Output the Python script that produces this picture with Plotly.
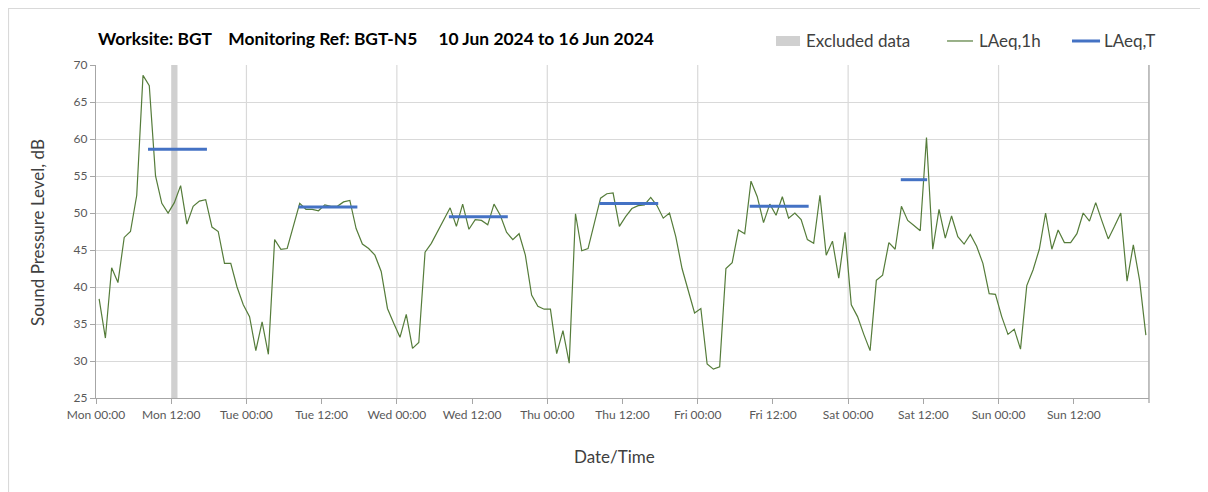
import pandas as pd
import plotly.graph_objects as go

# ---------------- data ----------------
start = "2024-06-10 00:30"
laeq_1h = [
    38.4, 33.1, 42.6, 40.6, 46.7, 47.5, 52.4, 68.6, 67.2, 55.0, 51.3, 50.0,
    51.4, 53.7, 48.5, 50.9, 51.6, 51.8, 48.1, 47.5, 43.2, 43.2, 40.0, 37.6,
    36.0, 31.4, 35.3, 30.9, 46.4, 45.1, 45.2, 48.3, 51.3, 50.5, 50.5, 50.3,
    51.1, 50.9, 50.9, 51.5, 51.7, 47.9, 45.8, 45.2, 44.3, 42.1, 37.1, 35.1,
    33.2, 36.3, 31.7, 32.5, 44.7, 45.9, 47.5, 49.1, 50.7, 48.2, 51.2, 47.8,
    49.1, 49.0, 48.4, 51.2, 49.7, 47.4, 46.4, 47.2, 44.3, 38.9, 37.4, 37.0,
    37.0, 31.0, 34.1, 29.7, 49.9, 44.9, 45.2, 48.6, 52.0, 52.6, 52.7, 48.2,
    49.5, 50.6, 51.0, 51.1, 52.1, 51.0, 49.3, 50.0, 46.8, 42.5, 39.6, 36.5,
    37.1, 29.6, 28.9, 29.2, 42.5, 43.3, 47.7, 47.2, 54.3, 52.2, 48.7, 51.2,
    49.7, 52.2, 49.3, 50.0, 49.1, 46.4, 45.9, 52.4, 44.3, 46.2, 41.2, 47.4,
    37.6, 36.0, 33.6, 31.4, 40.9, 41.6, 46.0, 45.1, 50.9, 49.0, 48.3, 47.6,
    60.2, 45.1, 50.5, 46.6, 49.6, 46.8, 45.8, 47.1, 45.5, 43.2, 39.1, 39.0,
    36.0, 33.6, 34.3, 31.6, 40.2, 42.3, 45.1, 50.0, 45.1, 47.7, 46.0, 46.0,
    47.2, 50.0, 48.9, 51.4, 48.9, 46.5, 48.2, 50.0, 40.8, 45.7, 40.9, 33.5,
]
period_days = ["2024-06-10", "2024-06-11", "2024-06-12", "2024-06-13", "2024-06-14", "2024-06-15"]
period_start_h = [8.3, 8.3, 8.3, 8.3, 8.3, 8.4]
period_end_h = [17.7, 17.7, 17.7, 17.7, 17.7, 12.6]
laeq_t = [58.6, 50.8, 49.5, 51.3, 50.9, 54.5]
excluded_start = "2024-06-10 12:00"
excluded_end = "2024-06-10 13:00"
tick_vals = pd.date_range("2024-06-10 00:00", "2024-06-16 12:00", freq="12h")
tick_text = [t.strftime("%a %H:%M") for t in tick_vals]
day_lines = pd.date_range("2024-06-11 00:00", "2024-06-17 00:00", freq="24h")

times = pd.date_range(start, periods=len(laeq_1h), freq="h")

FONT = "Lato"
GREEN = "#557c3a"
BLUE = "#4472c4"
GRID = "#d9d9d9"

fig = go.Figure()

fig.add_trace(go.Scatter(
    x=times, y=laeq_1h, mode="lines", name="LAeq,1h",
    line=dict(color=GREEN, width=1.2), showlegend=False,
))

bx, by = [], []
for d, s, e, v in zip(period_days, period_start_h, period_end_h, laeq_t):
    d0 = pd.Timestamp(d)
    bx += [d0 + pd.Timedelta(hours=s), d0 + pd.Timedelta(hours=e), None]
    by += [v, v, None]
fig.add_trace(go.Scatter(
    x=bx, y=by, mode="lines", name="LAeq,T",
    line=dict(color=BLUE, width=3), showlegend=False, connectgaps=False,
))

shapes = []
# excluded band
shapes.append(dict(type="rect", xref="x", yref="y", x0=excluded_start, x1=excluded_end,
                   y0=25, y1=70, fillcolor="#d0d0d0", line=dict(width=0), layer="between"))
# vertical day grid lines
for t in day_lines:
    shapes.append(dict(type="line", xref="x", yref="paper", x0=t, x1=t, y0=0, y1=1,
                       line=dict(color=GRID, width=1.2), layer="below"))
# right edge
shapes.append(dict(type="line", xref="paper", yref="paper", x0=1, x1=1, y0=-0.015, y1=1,
                   line=dict(color="#a6a6a6", width=1.3), layer="above"))
# outer frame (left & top)
shapes.append(dict(type="rect", xref="paper", yref="paper", x0=-0.0831, x1=1.3, y0=-0.6, y1=1.1697,
                   line=dict(color="#d9d9d9", width=1.2), fillcolor="rgba(0,0,0,0)", layer="below"))

# manual legend
LY = 1.0721
shapes.append(dict(type="rect", xref="paper", yref="paper", x0=0.6458, x1=0.6686, y0=1.0571, y1=1.0871,
                   fillcolor="#d0d0d0", line=dict(width=0)))
shapes.append(dict(type="line", xref="paper", yref="paper", x0=0.8082, x1=0.8329, y0=LY, y1=LY,
                   line=dict(color=GREEN, width=1.2)))
shapes.append(dict(type="line", xref="paper", yref="paper", x0=0.9269, x1=0.9535, y0=LY, y1=LY,
                   line=dict(color=BLUE, width=3)))

ann = []
ann.append(dict(xref="paper", yref="paper", x=0, y=1.081, xanchor="left", yanchor="middle",
                text="<b>Worksite: BGT\u00a0\u00a0\u00a0 Monitoring Ref: BGT-N5\u00a0\u00a0\u00a0\u00a0 10 Jun 2024 to 16 Jun 2024</b>",
                showarrow=False, font=dict(family=FONT, size=17.4, color="#000000")))
for x, txt in [(0.6724, "Excluded data"), (0.8367, "LAeq,1h"), (0.9554, "LAeq,T")]:
    ann.append(dict(xref="paper", yref="paper", x=x, y=LY, xanchor="left", yanchor="middle",
                    text=txt, showarrow=False, font=dict(family=FONT, size=17, color="#404040")))
# axis titles
ann.append(dict(xref="paper", yref="paper", x=0.492, y=-0.177, xanchor="center", yanchor="middle",
                text="Date/Time", showarrow=False, font=dict(family=FONT, size=17, color="#404040")))
ann.append(dict(xref="paper", yref="paper", x=-0.0551, y=0.4985, xanchor="center", yanchor="middle",
                text="Sound Pressure Level, dB", textangle=-90, showarrow=False,
                font=dict(family=FONT, size=17, color="#404040")))

fig.update_layout(
    width=1208, height=492,
    margin=dict(l=88, r=67, t=57, b=102, autoexpand=False),
    paper_bgcolor="white", plot_bgcolor="white",
    showlegend=False,
    shapes=shapes, annotations=ann,
    font=dict(family=FONT, color="#595959"),
    xaxis=dict(
        range=[pd.Timestamp("2024-06-10 00:00"), pd.Timestamp("2024-06-17 00:00")],
        tickvals=tick_vals, ticktext=tick_text, automargin=False,
        tickfont=dict(family=FONT, size=12, color="#595959"),
        showgrid=False, zeroline=False,
        showline=True, linecolor="#a6a6a6", linewidth=1.3,
        ticks="outside", ticklen=5, tickcolor="#a6a6a6", tickwidth=1,
    ),
    yaxis=dict(
        range=[25, 70], dtick=5, tick0=25, automargin=False,
        tickfont=dict(family=FONT, size=12, color="#595959"),
        showgrid=True, gridcolor=GRID, gridwidth=1.3, zeroline=False,
        showline=True, linecolor="#a6a6a6", linewidth=1.3,
        ticks="outside", ticklen=5, tickcolor="#a6a6a6", tickwidth=1,
    ),
)

fig.write_html("out.html")
